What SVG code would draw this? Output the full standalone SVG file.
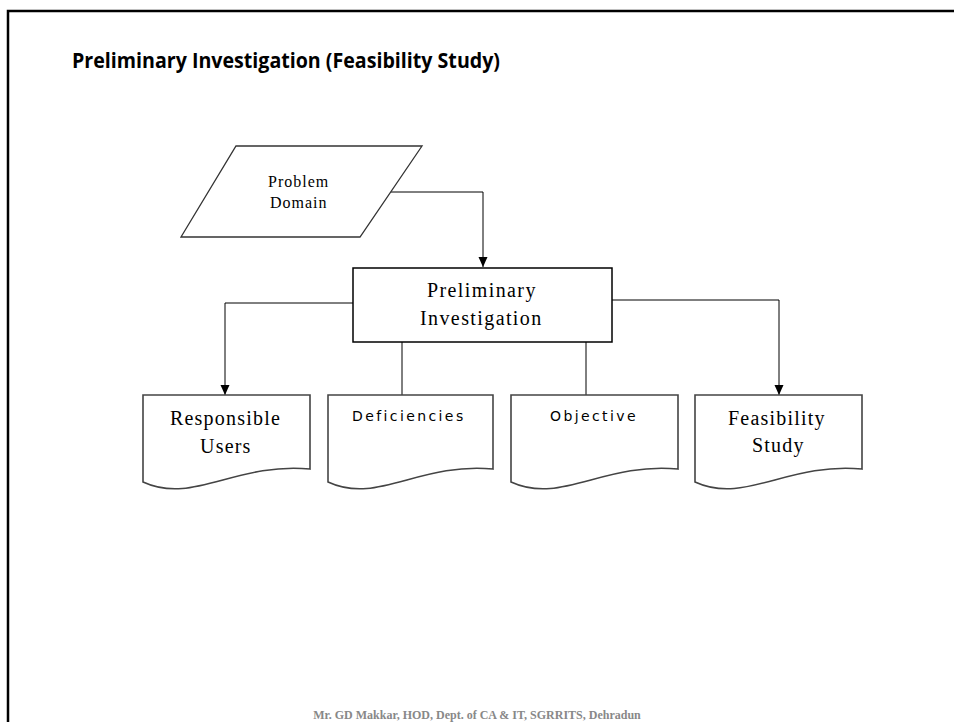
<svg xmlns="http://www.w3.org/2000/svg" width="954" height="722" viewBox="0 0 954 722">
<defs>
<style>
.frame{fill:none;stroke:#000;stroke-width:2.5}
.title{font-family:"Open Sans","Liberation Sans",sans-serif;font-weight:bold;font-size:22px;fill:#000}
.shape{fill:#fff;stroke:#333;stroke-width:1.3}
.doc{fill:#fff;stroke:#444;stroke-width:1.6}
.serif{font-family:"Liberation Serif","Times New Roman",serif;fill:#000}
.sans{font-family:"DejaVu Sans",Verdana,sans-serif;font-size:14px;letter-spacing:2.4px;fill:#000}
.conn{fill:none;stroke:#000;stroke-width:1}
.footer{font-family:"Liberation Serif","Times New Roman",serif;font-weight:bold;font-size:12px;fill:#888}
</style>
<marker id="arr" markerWidth="11" markerHeight="11" refX="10" refY="5.5" orient="auto" markerUnits="userSpaceOnUse">
<path d="M0,1 L10,5.5 L0,10 Z" fill="#000"/>
</marker>
<path id="docshape" d="M0,0 H167 V74 C92,67 50,110 0,87 Z"/>
</defs>
<rect width="954" height="722" fill="#fff"/>
<path class="frame" d="M8,722 V11 H954"/>
<text class="title" x="72" y="68" textLength="428" lengthAdjust="spacingAndGlyphs">Preliminary Investigation (Feasibility Study)</text>

<g id="connectors">
<path class="conn" d="M390,192 H483 V267" marker-end="url(#arr)"/>
<path class="conn" d="M353,303 H225 V395" marker-end="url(#arr)"/>
<path class="conn" d="M402,342 V395"/>
<path class="conn" d="M586,342 V395"/>
<path class="conn" d="M612,300 H779 V395" marker-end="url(#arr)"/>
</g>

<g id="problem-domain">
<polygon class="shape" points="236,146 422,146 360,237 181,237"/>
<text class="serif" font-size="16" letter-spacing="1" x="268" y="187">Problem</text>
<text class="serif" font-size="16" letter-spacing="1" x="270" y="208">Domain</text>
</g>

<g id="preliminary-investigation">
<rect x="353" y="268" width="259" height="74" fill="#fff" stroke="#000" stroke-width="1.5"/>
<text class="serif" font-size="20" letter-spacing="1.4" x="427" y="297">Preliminary</text>
<text class="serif" font-size="20" letter-spacing="1.4" x="420" y="325">Investigation</text>
</g>

<g id="responsible-users">
<use href="#docshape" class="doc" transform="translate(143,395)"/>
<text class="serif" font-size="20" letter-spacing="1.2" x="170" y="425">Responsible</text>
<text class="serif" font-size="20" letter-spacing="1.2" x="200" y="453">Users</text>
</g>

<g id="deficiencies">
<use href="#docshape" class="doc" transform="translate(328,395) scale(0.988,1)"/>
<text class="sans" x="352" y="421">Deficiencies</text>
</g>

<g id="objective">
<use href="#docshape" class="doc" transform="translate(511,395)"/>
<text class="sans" x="550" y="421">Objective</text>
</g>

<g id="feasibility-study">
<use href="#docshape" class="doc" transform="translate(695,395)"/>
<text class="serif" font-size="20" letter-spacing="1.2" x="728" y="425">Feasibility</text>
<text class="serif" font-size="20" letter-spacing="1.2" x="752" y="452">Study</text>
</g>

<text class="footer" x="477" y="719" text-anchor="middle">Mr. GD Makkar, HOD, Dept. of CA &amp; IT, SGRRITS, Dehradun</text>
</svg>
